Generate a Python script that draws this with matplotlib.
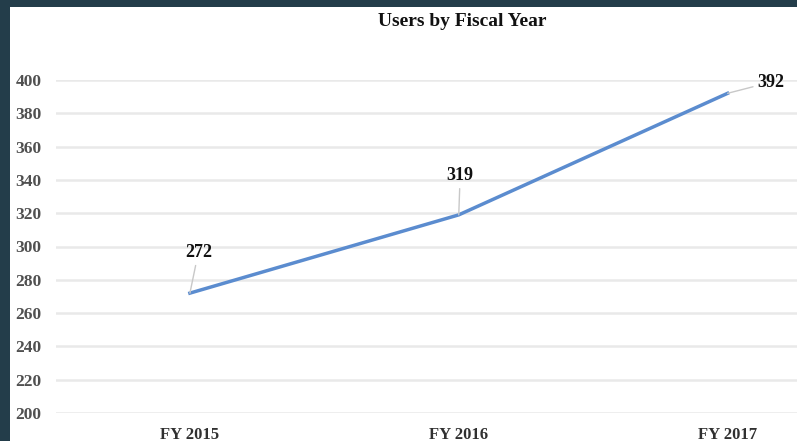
import matplotlib
matplotlib.use("Agg")
import matplotlib.pyplot as plt
from matplotlib.patches import Rectangle

categories = ["FY 2015", "FY 2016", "FY 2017"]
users = [272, 319, 392]
yticks = [200, 220, 240, 260, 280, 300, 320, 340, 360, 380, 400]

W, H = 797, 441
fig = plt.figure(figsize=(W / 100, H / 100), dpi=100, facecolor="#233d4a")
fig.patches.append(Rectangle((10 / W, 0), 1, (H - 7) / H, transform=fig.transFigure,
                             facecolor="white", edgecolor="none", zorder=-10))

ax = fig.add_axes([55.5 / W, (H - 413) / H, (862 - 55.5) / W, (413 - 80) / H])
ax.set_facecolor("none")
x = list(range(len(categories)))
ax.plot(x, users, color="#5b8ccf", lw=2.5, clip_on=False, zorder=3)
ax.set_xlim(-0.5, len(categories) - 0.5)
ax.set_ylim(200, 400)
ax.set_yticks(yticks)
ax.set_xticks(x)
ax.set_xticklabels(categories)
for s in ax.spines.values():
    s.set_visible(False)
ax.grid(axis="y", color="#e9e9e9", lw=1.8)
ax.set_axisbelow(True)
ax.tick_params(length=0)
ax.tick_params(axis="y", pad=10, labelsize=12.5, labelcolor="#505050")
ax.tick_params(axis="x", pad=10, labelsize=12, labelcolor="#303030")
for lab in ax.get_yticklabels() + ax.get_xticklabels():
    lab.set_fontfamily("Liberation Serif")
    lab.set_fontweight("bold")

offsets = [(6, 29), (1, 28), (31, 8)]
for xi, v, off in zip(x, users, offsets):
    ax.annotate(str(v), (xi, v), xytext=off, textcoords="offset points",
                ha="center", va="center", fontsize=13, fontweight="bold",
                family="Liberation Serif", color="#111111",
                arrowprops=dict(arrowstyle="-", color="#c8c8c8", lw=1,
                                shrinkA=1, shrinkB=0),
                annotation_clip=False, zorder=4)

fig.text(462 / W, (H - 22) / H, "Users by Fiscal Year", ha="center", va="center",
         fontsize=14, fontweight="bold", family="Liberation Serif", color="#111111")

fig.savefig("out.png", dpi=100, facecolor=fig.get_facecolor())
